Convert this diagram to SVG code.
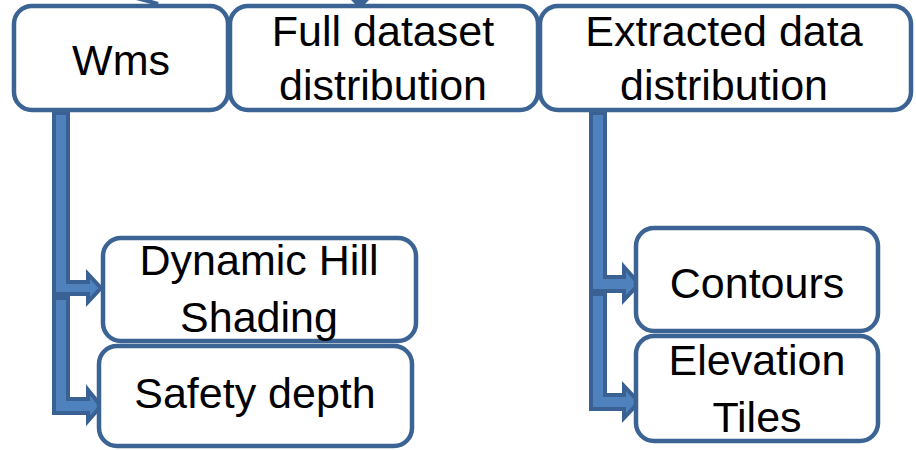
<svg xmlns="http://www.w3.org/2000/svg" width="916" height="450" viewBox="0 0 916 450">
<style>
.box{fill:#fff;stroke:#3B6495;stroke-width:4.5}
.arr{fill:#4F81BD;stroke:#3A6193;stroke-width:4;stroke-linejoin:miter}
.t{font-family:"Liberation Sans",Arial,sans-serif;font-size:43px;fill:#000;text-anchor:middle}
.frag{fill:none;stroke:#3B6495;stroke-width:4}
</style>
<rect width="916" height="450" fill="#fff"/>
<g id="fragments">
<path class="frag" d="M128,-4 Q145,0 158,4"/>
<polygon points="351,0 369,0 360,9" fill="#3B6495"/>
</g>
<g id="connectors">
<polygon class="arr" points="54,113 68,113 68,282 88,282 88,274 101,288 88,302 88,294 54,294"/>
<polygon class="arr" points="54,298 68,298 68,399 88,399 88,390 101,406 88,421 88,413 54,413"/>
<polygon class="arr" points="591,113 605,113 605,277 624,277 624,267 639,284 624,300 624,291 591,291"/>
<polygon class="arr" points="591,294 605,294 605,395 624,395 624,386 639,402 624,418 624,409 591,409"/>
</g>
<g id="wms">
<rect class="box" x="14" y="6" width="214" height="104" rx="18"/>
<text class="t" x="121" y="75">Wms</text>
</g>
<g id="full">
<rect class="box" x="230" y="6" width="308" height="104" rx="18"/>
<text class="t" x="383" y="46">Full dataset</text>
<text class="t" x="383" y="100">distribution</text>
</g>
<g id="extracted">
<rect class="box" x="540" y="6" width="371" height="104" rx="18"/>
<text class="t" x="724" y="46">Extracted data</text>
<text class="t" x="724" y="100">distribution</text>
</g>
<g id="hill">
<rect class="box" x="103" y="238" width="313" height="103" rx="18"/>
<text class="t" x="259" y="275">Dynamic Hill</text>
<text class="t" x="259" y="332">Shading</text>
</g>
<g id="safety">
<rect class="box" x="99" y="346" width="313" height="100" rx="18"/>
<text class="t" x="255" y="408">Safety depth</text>
</g>
<g id="contours">
<rect class="box" x="636" y="228" width="242" height="103" rx="18"/>
<text class="t" x="757" y="298">Contours</text>
</g>
<g id="elevation">
<rect class="box" x="636" y="336" width="242" height="105" rx="18"/>
<text class="t" x="757" y="375">Elevation</text>
<text class="t" x="757" y="432">Tiles</text>
</g>
</svg>
